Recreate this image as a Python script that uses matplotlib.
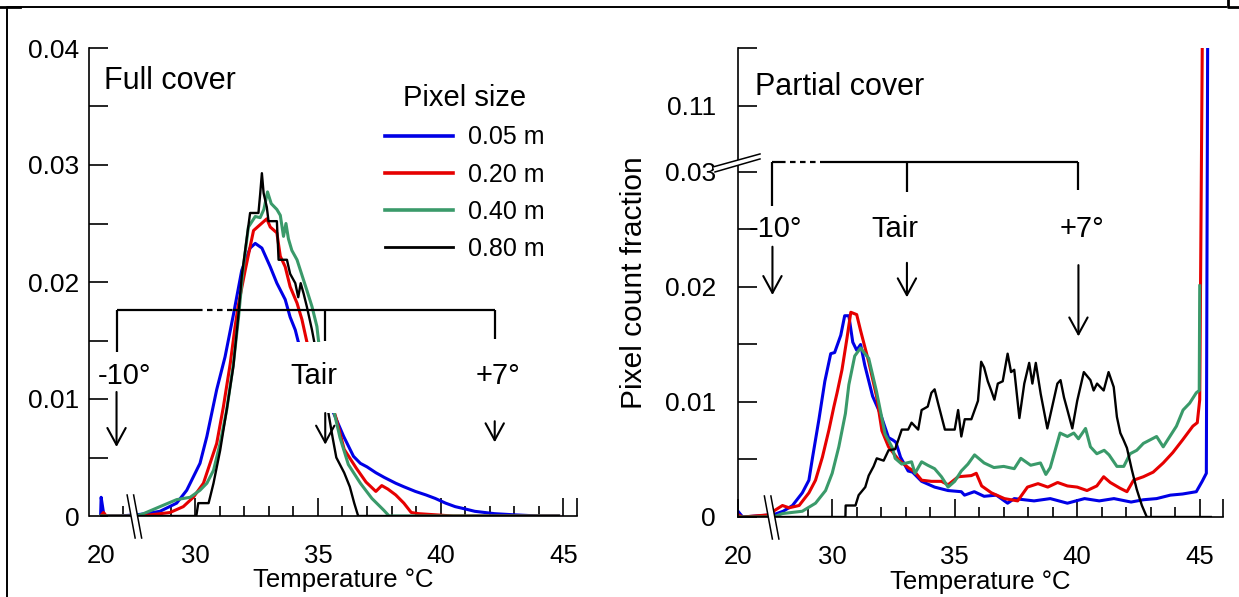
import numpy as np
import matplotlib
matplotlib.use('Agg')
import matplotlib.pyplot as plt
from matplotlib.lines import Line2D
from matplotlib.patches import Rectangle, Polygon
from matplotlib.transforms import Affine2D, IdentityTransform

plt.rcParams['font.family'] = ['Liberation Sans', 'DejaVu Sans']

# ---------------- data: full cover ----------------
full_t_005 = [20.0, 20.1, 20.6, 21.0, 24.0, 27.6, 28.0, 28.57, 29.25, 29.66, 30.2, 30.48, 30.88, 31.22,
              31.56, 31.9, 32.24, 32.45, 32.72, 33.06, 33.33, 33.67, 33.87, 34.08, 34.2, 34.6, 35.0,
              35.3, 35.64, 36.05, 36.45, 36.73, 37.0, 37.36, 37.7, 38.17, 38.5, 38.97, 39.4, 39.78,
              40.2, 40.59, 41.0, 41.39, 42.19, 43.0, 44.0, 44.8]
full_y_005 = [0.0002, 0.0016, 0.0003, 0.0, 0.0, 0.0001, 0.0002, 0.0004, 0.0011, 0.0022, 0.0045, 0.0068,
              0.0108, 0.0136, 0.0172, 0.0210, 0.0229, 0.0233, 0.0229, 0.0213, 0.0199, 0.0185, 0.0170,
              0.0159, 0.0149, 0.0130, 0.0112, 0.0100, 0.0088, 0.0068, 0.0051, 0.0045, 0.0042, 0.0037,
              0.0033, 0.0028, 0.0025, 0.0021, 0.0018, 0.0015, 0.0011, 0.0008, 0.0006, 0.0004, 0.0002,
              0.0001, 0.0, 0.0]

full_t_020 = [20.0, 20.6, 21.2, 27.6, 28.2, 28.98, 29.52, 29.93, 30.34, 30.61, 30.88, 31.15, 31.43,
              31.63, 31.75, 32.04, 32.38, 32.65, 32.92, 33.06, 33.33, 33.47, 33.67, 33.87, 34.15, 34.35,
              34.55, 35.0, 35.5, 35.75, 36.07, 36.56, 36.96, 37.36, 37.6, 37.85, 38.17, 38.5, 38.8,
              39.1, 39.8, 40.5, 44.8]
full_y_020 = [0.0, 0.0003, 0.0, 0.0, 0.0001, 0.0003, 0.0008, 0.0016, 0.0028, 0.0045, 0.0062, 0.0093,
              0.0130, 0.0162, 0.0179, 0.0210, 0.0244, 0.0249, 0.0254, 0.0247, 0.0242, 0.0222, 0.0213,
              0.0196, 0.0182, 0.0168, 0.0149, 0.0125, 0.0100, 0.0083, 0.0057, 0.0041, 0.0029, 0.0021,
              0.0026, 0.0023, 0.0018, 0.0011, 0.0003, 0.0002, 0.0001, 0.0, 0.0]

full_t_040 = [20.0, 27.6, 27.9, 28.57, 29.25, 29.8, 30.2, 30.48, 30.75, 31.02, 31.29, 31.56, 31.77,
              31.95, 32.17, 32.45, 32.65, 32.8, 32.95, 33.1, 33.33, 33.47, 33.6, 33.7, 33.8, 33.94,
              34.15, 34.35, 34.55, 34.76, 34.96, 35.03, 35.4, 35.67, 35.9, 36.24, 36.73, 37.2, 37.68,
              37.9, 44.8]
full_y_040 = [0.0, 0.0, 0.0002, 0.0008, 0.0014, 0.0016, 0.0022, 0.0028, 0.0039, 0.0062, 0.0091, 0.0130,
              0.0170, 0.0210, 0.0247, 0.0256, 0.0255, 0.0262, 0.0277, 0.0267, 0.0262, 0.0257, 0.0239,
              0.0250, 0.0237, 0.0227, 0.0219, 0.0206, 0.0193, 0.0179, 0.0162, 0.0149, 0.0120, 0.0088,
              0.0067, 0.0044, 0.0028, 0.0015, 0.0005, 0.0, 0.0]

full_t_080 = [20.0, 30.05, 30.13, 30.55, 30.61, 30.75, 31.02, 31.29, 31.56, 31.77, 31.9, 32.24, 32.58,
              32.65, 32.72, 32.79, 32.92, 32.99, 33.33, 33.4, 33.74, 33.87, 34.08, 34.2, 34.3, 34.42,
              34.55, 34.76, 34.85, 35.1, 35.43, 35.6, 35.75, 36.07, 36.3, 36.48, 36.64, 44.8]
full_y_080 = [0.0, 0.0, 0.0011, 0.0011, 0.0016, 0.0028, 0.0056, 0.0091, 0.0128, 0.0173, 0.0205, 0.0259,
              0.0259, 0.0275, 0.0293, 0.0276, 0.0264, 0.0252, 0.0252, 0.0219, 0.0219, 0.0207, 0.0199,
              0.0187, 0.0199, 0.0190, 0.0179, 0.0159, 0.0149, 0.0120, 0.0088, 0.0067, 0.0050, 0.0037,
              0.0025, 0.0011, 0.0, 0.0]

# ---------------- data: partial cover ----------------
part_t_005 = [20.0, 20.4, 21.0, 27.6, 28.0, 28.38, 28.78, 29.05, 29.2, 29.46, 29.7, 29.94, 30.1, 30.35,
              30.51, 30.68, 30.84, 31.0, 31.16, 31.33, 31.65, 31.98, 32.3, 32.47, 32.6, 32.79, 33.1,
              33.28, 33.65, 34.18, 34.73, 35.27, 35.4, 35.8, 36.2, 36.7, 37.16, 37.43, 38.24, 38.9,
              39.6, 40.3, 40.9, 41.5, 42.2, 42.7, 43.24, 43.8, 44.3, 44.86, 45.1, 45.27, 45.33]
part_y_005 = [0.0005, 0.0003, 0.0, 0.0002, 0.0005, 0.0010, 0.0021, 0.0032, 0.0052, 0.0085, 0.0118,
              0.0142, 0.0143, 0.0158, 0.0175, 0.0175, 0.0152, 0.0145, 0.0150, 0.0132, 0.0105, 0.0089,
              0.0069, 0.0067, 0.0065, 0.0052, 0.0040, 0.0039, 0.0031, 0.0026, 0.0023, 0.0022, 0.0019,
              0.0022, 0.0018, 0.0019, 0.0012, 0.0016, 0.0014, 0.0016, 0.0012, 0.0016, 0.0014, 0.0016,
              0.0013, 0.0015, 0.0016, 0.0019, 0.0020, 0.0022, 0.0031, 0.0038, 0.13]

part_t_020 = [20.0, 21.0, 27.0, 27.6, 27.97, 28.24, 28.65, 29.05, 29.32, 29.6, 29.87, 30.07, 30.2,
              30.4, 30.6, 30.76, 31.0, 31.16, 31.49, 31.81, 32.03, 32.3, 32.7, 33.1, 33.38, 33.65,
              34.05, 34.46, 34.73, 35.14, 35.68, 35.88, 36.1, 36.5, 37.03, 37.57, 37.97, 38.4, 38.8,
              39.2, 39.6, 40.0, 40.4, 40.8, 41.08, 41.35, 41.75, 42.03, 42.3, 42.7, 43.1, 43.51, 43.9,
              44.3, 44.72, 44.9, 45.0, 45.12]
part_y_020 = [0.0002, 0.0, 0.0002, 0.0005, 0.0010, 0.0008, 0.0010, 0.0021, 0.0032, 0.0052, 0.0076,
              0.0096, 0.0108, 0.0128, 0.0155, 0.0178, 0.0176, 0.0162, 0.0135, 0.0105, 0.0075, 0.0061,
              0.0050, 0.0043, 0.0039, 0.0032, 0.0031, 0.0031, 0.0028, 0.0035, 0.0036, 0.0038, 0.0027,
              0.0021, 0.0016, 0.0014, 0.0026, 0.0029, 0.0026, 0.0030, 0.0027, 0.0026, 0.0023, 0.0027,
              0.0035, 0.0030, 0.0025, 0.0022, 0.0032, 0.0035, 0.0039, 0.0047, 0.0056, 0.0067, 0.0079,
              0.0082, 0.0102, 0.13]

part_t_040 = [20.0, 27.6, 27.97, 28.78, 29.32, 29.73, 30.0, 30.27, 30.54, 30.68, 30.92, 31.16, 31.3,
              31.49, 31.81, 32.16, 32.46, 32.57, 32.84, 33.24, 33.38, 33.65, 33.9, 34.18, 34.46, 34.73,
              35.0, 35.27, 35.54, 35.81, 36.2, 36.6, 37.0, 37.43, 37.7, 38.1, 38.5, 38.72, 38.9, 39.3,
              39.6, 39.86, 40.05, 40.34, 40.54, 40.8, 41.1, 41.3, 41.62, 41.9, 42.16, 42.43, 42.7,
              42.97, 43.24, 43.51, 43.78, 44.05, 44.32, 44.59, 44.86, 44.98, 45.0]
part_y_040 = [0.0, 0.0, 0.0003, 0.0005, 0.0012, 0.0023, 0.0038, 0.0061, 0.0090, 0.0115, 0.0140, 0.0147,
              0.0143, 0.0138, 0.0109, 0.0072, 0.0060, 0.0051, 0.0046, 0.0048, 0.0038, 0.0048, 0.0045,
              0.0042, 0.0035, 0.0026, 0.0031, 0.0040, 0.0046, 0.0054, 0.0047, 0.0043, 0.0044, 0.0042,
              0.0051, 0.0045, 0.0047, 0.0037, 0.0043, 0.0073, 0.0070, 0.0073, 0.0068, 0.0077, 0.0061,
              0.0055, 0.0058, 0.0054, 0.0044, 0.0044, 0.0055, 0.0058, 0.0064, 0.0067, 0.0070, 0.0061,
              0.0070, 0.0079, 0.0093, 0.0099, 0.0108, 0.0110, 0.0201]

part_t_080 = [20.0, 30.54, 30.55, 30.95, 31.08, 31.35, 31.49, 31.69, 31.82, 32.1, 32.3, 32.57, 32.84,
              33.1, 33.24, 33.51, 33.65, 33.9, 34.05, 34.18, 34.32, 34.6, 35.0, 35.14, 35.27, 35.41,
              35.68, 35.95, 36.08, 36.2, 36.35, 36.49, 36.62, 36.76, 36.96, 37.16, 37.3, 37.43, 37.64,
              37.84, 38.04, 38.17, 38.31, 38.51, 38.78, 38.98, 39.19, 39.32, 39.46, 39.6, 39.8, 40.0,
              40.27, 40.54, 40.67, 40.81, 41.08, 41.28, 41.49, 41.62, 41.76, 41.89, 42.03, 42.23,
              42.43, 42.64, 42.84, 45.45]
part_y_080 = [0.0, 0.0, 0.0010, 0.0010, 0.0019, 0.0026, 0.0036, 0.0044, 0.0051, 0.0049, 0.0058, 0.0059,
              0.0076, 0.0076, 0.0082, 0.0076, 0.0093, 0.0096, 0.0108, 0.0111, 0.0099, 0.0076, 0.0076,
              0.0093, 0.0070, 0.0085, 0.0085, 0.0101, 0.0135, 0.0130, 0.0118, 0.0110, 0.0102, 0.0116,
              0.0118, 0.0142, 0.0126, 0.0128, 0.0086, 0.0116, 0.0134, 0.0116, 0.0134, 0.0107, 0.0077,
              0.0096, 0.0116, 0.0119, 0.0104, 0.0093, 0.0077, 0.0101, 0.0126, 0.0119, 0.0110, 0.0116,
              0.0110, 0.0126, 0.0113, 0.0087, 0.0073, 0.0067, 0.0060, 0.0041, 0.0024, 0.0010, 0.0, 0.0]

sizes = ['0.05 m', '0.20 m', '0.40 m', '0.80 m']
colors = ['#0000e6', '#e60000', '#3a9a6a', 'black']
widths = [2.2, 2.2, 2.2, 1.7]

# bracket / arrow positions (temperature axis) and label texts
marks_full = [23.4, 35.3, 42.2]
marks_part = [27.4, 33.05, 40.05]
mark_labels = ['-10\u00b0', 'Tair', '+7\u00b0']

W, H = 1239, 597
T_BREAK = 27.6
SQUEEZE = 0.19
Y_LO, Y_HI, Y_K = 0.031, 0.1006, 0.504


def x_fwd(t):
    t = np.asarray(t, dtype=float)
    return np.where(t < T_BREAK, T_BREAK - (T_BREAK - t) * SQUEEZE, t)


def x_inv(u):
    u = np.asarray(u, dtype=float)
    return np.where(u < T_BREAK, T_BREAK - (T_BREAK - u) / SQUEEZE, u)


def y_fwd(y):
    y = np.asarray(y, dtype=float)
    return np.where(y <= Y_LO, y, np.where(y >= Y_HI, Y_LO + (y - Y_HI) * Y_K, Y_LO))


def y_inv(u):
    u = np.asarray(u, dtype=float)
    return np.where(u <= Y_LO, u, Y_HI + (u - Y_LO) / Y_K)


fig = plt.figure(figsize=(W / 100, H / 100), dpi=100)
axL = fig.add_axes([89 / W, 1 - 516 / H, 488 / W, 468 / H])
axR = fig.add_axes([738 / W, 1 - 517 / H, 485 / W, 469 / H])

full = [(full_t_005, full_y_005), (full_t_020, full_y_020), (full_t_040, full_y_040), (full_t_080, full_y_080)]
part = [(part_t_005, part_y_005), (part_t_020, part_y_020), (part_t_040, part_y_040), (part_t_080, part_y_080)]

for ax in (axL, axR):
    ax.set_xscale('function', functions=(x_fwd, x_inv))
    for s in ('top', 'right'):
        ax.spines[s].set_visible(False)
    for s in ('left', 'bottom'):
        ax.spines[s].set_linewidth(1.2)

axR.set_yscale('function', functions=(y_fwd, y_inv))

for (t, y), c, lw, lab in zip(full, colors, widths, sizes):
    axL.plot(t, y, color=c, lw=lw, label=lab, zorder=2)
for (t, y), c, lw in zip(part, colors, widths):
    axR.plot(t, y, color=c, lw=lw, zorder=2)

axL.set_xlim(17.5, 45.55)
axL.set_ylim(0, 0.04)
axR.set_xlim(20.0, 45.95)
axR.set_ylim(0, 0.12)
axL.spines['bottom'].set_bounds(20, 45.55)

# ticks
axL.set_xticks([20, 30, 35, 40, 45, 45.55], ['20', '30', '35', '40', '45', ''])
axR.set_xticks([20, 30, 35, 40, 45, 45.95], ['20', '30', '35', '40', '45', ''])
minor_x = [29, 31, 32, 33, 34, 36, 37, 38, 39, 41, 42, 43, 44]
axL.set_xticks([24.8] + minor_x, minor=True)
axR.set_xticks(minor_x, minor=True)

axL.set_yticks([0, 0.01, 0.02, 0.03, 0.04], ['0', '0.01', '0.02', '0.03', '0.04'])
axL.set_yticks([0.005, 0.015, 0.025, 0.035], minor=True)
axR.set_yticks([0, 0.01, 0.02, 0.03, 0.11, 0.12], ['0', '0.01', '0.02', '0.03', '0.11', ''])
axR.set_yticks([0.005, 0.015, 0.025], minor=True)

for ax, ypad in ((axL, 7), (axR, 16)):
    ax.tick_params(axis='x', which='major', direction='in', length=13, width=1.2, labelsize=18.5, pad=20)
    ax.tick_params(axis='x', which='minor', direction='in', length=7, width=1.2)
    ax.tick_params(axis='y', which='both', direction='in', length=14, width=1.2, labelsize=19, pad=ypad)

for ax, xc in ((axL, 0.52), (axR, 0.5)):
    ax.set_xlabel('Temperature \u00b0C', fontsize=18.5)
    ax.xaxis.set_label_coords(xc, -0.112)
axR.set_ylabel('Pixel count fraction', fontsize=21.5)
axR.yaxis.set_label_coords(-0.185, 0.5)

axL.text(0.031, 0.9115, 'Full cover', transform=axL.transAxes, fontsize=22, va='baseline')
axR.text(0.035, 0.8998, 'Partial cover', transform=axR.transAxes, fontsize=22, va='baseline')

leg = axL.legend(title='Pixel size', loc='upper left', bbox_to_anchor=(385 / W, 1 - 84 / H),
                 bbox_transform=fig.transFigure, frameon=False, fontsize=18, title_fontsize=21,
                 handlelength=2.7, handletextpad=0.6, labelspacing=0.53, borderpad=0, borderaxespad=0)
for h, lw in zip(leg.get_lines(), [2.6, 2.6, 2.6, 2.0]):
    h.set_linewidth(lw)

# white cover behind the Tair label (full cover)
axL.add_patch(Rectangle((33.9, 0.0088), 36.1 - 33.9, 0.0149 - 0.0088, facecolor='white',
                        edgecolor='none', zorder=2.5))


def bracket(ax, xs, ybar, arm_ends, dash_from, dash_to, lab_y, lab_dx, arrows):
    kw = dict(color='black', lw=1.6, zorder=3, solid_capstyle='butt')
    ax.plot([xs[0], dash_from], [ybar, ybar], **kw)
    ax.plot([dash_from, dash_to], [ybar, ybar], color='black', lw=1.6, ls=(0, (2.5, 2)), zorder=3)
    ax.plot([dash_to, xs[2]], [ybar, ybar], **kw)
    for x, ye, dx, (a0, a1), lab in zip(xs, arm_ends, lab_dx, arrows, mark_labels):
        ax.plot([x, x], [ybar, ye], **kw)
        ax.annotate(lab, xy=(x, lab_y), xytext=(dx, 0), textcoords='offset points',
                    ha='center', va='center', fontsize=21, zorder=4)
        ax.annotate('', xy=(x, a1), xytext=(x, a0), zorder=4,
                    arrowprops=dict(arrowstyle='->, head_length=0.55, head_width=0.3', lw=1.5,
                                    mutation_scale=22, shrinkA=0, shrinkB=0, color='black'))


bracket(axL, marks_full, 0.0176, [0.0140, 0.0150, 0.0151], 30.08, 31.55, 0.0120, [6, -8, 2.5],
        [(0.0106, 0.0059), (0.0088, 0.0061), (0.0081, 0.0063)])
bracket(axR, marks_part, 0.0309, [0.0270, 0.0283, 0.0284], 27.85, 29.72, 0.0250, [2.5, -8.5, 2.5],
        [(0.0235, 0.0193), (0.0221, 0.0191), (0.0219, 0.0157)])

# axis break symbols, drawn in display pixels around the break positions
def break_mark(ax, base, segs):
    bx, by = ax.transData.transform(base)
    pts = [[(bx + dx, by - dy) for dx, dy in seg] for seg in segs]
    poly = [pts[0][0], pts[0][1], pts[1][1], pts[1][0]]
    fig.add_artist(Polygon(poly, closed=True, facecolor='white', edgecolor='none',
                           transform=IdentityTransform(), zorder=5))
    for seg in pts:
        fig.add_artist(Line2D([p[0] for p in seg], [p[1] for p in seg], color='black', lw=1.1,
                              transform=IdentityTransform(), zorder=6))


xseg = [[(-9, -21), (-1, 22)], [(-2.5, -21), (5.5, 22)]]
break_mark(axL, (T_BREAK, 0), xseg)
break_mark(axR, (T_BREAK, 0), xseg)
break_mark(axR, (20.0, Y_LO), [[(-25, 6.5), (22, -6.5)], [(-23, 11.5), (22, -1.5)]])

# outer frame of the original figure
pix = Affine2D().scale(1 / W, -1 / H).translate(0, 1) + fig.transFigure
fig.add_artist(Line2D([7, 7, 1226], [597, 7, 7], color='black', lw=1.4, transform=pix))
fig.add_artist(Line2D([1228, 1228, 1239], [0, 7, 7], color='black', lw=2.0, transform=pix))
fig.add_artist(Line2D([0, 20], [7, 7], color='black', lw=2.0, transform=pix))

fig.savefig('out.png', dpi=100)
